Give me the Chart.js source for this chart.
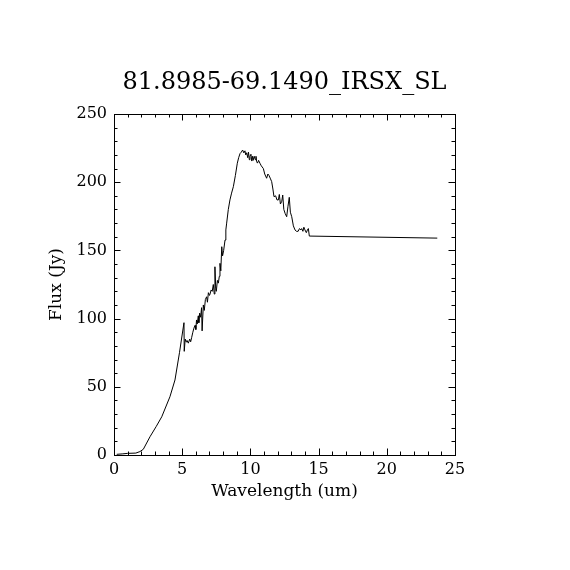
<!DOCTYPE html>
<html>
<head>
<meta charset="utf-8">
<script src="https://cdn.jsdelivr.net/npm/chart.js@4.4.1/dist/chart.umd.min.js"></script>
<style>
  html, body { margin: 0; padding: 0; background: #fff; }
  #wrap { width: 570px; height: 570px; position: relative; }
</style>
</head>
<body>
<div id="wrap"><canvas id="c"></canvas></div>
<script>
const chartTitle = "81.8985-69.1490_IRSX_SL";
const xLabel = "Wavelength (um)";
const yLabel = "Flux (Jy)";
const xTicks = [0, 5, 10, 15, 20, 25];
const yTicks = [0, 50, 100, 150, 200, 250];

const wavelength = [
  0.2, 0.6, 1.0, 1.6, 1.9, 2.15, 2.64, 3.1, 3.5, 4.1, 4.47, 4.8, 5.13, 5.15, 5.22, 5.28, 5.35, 5.45, 5.55, 5.62,
  5.69, 5.78, 5.86, 5.94, 6.0, 6.05, 6.1, 6.18, 6.22, 6.28, 6.35, 6.42, 6.46, 6.55, 6.62, 6.7, 6.79, 6.85, 6.92, 7.0,
  7.04, 7.12, 7.2, 7.28, 7.35, 7.4, 7.46, 7.5, 7.58, 7.65, 7.72, 7.77, 7.83, 7.9, 7.96, 8.04, 8.14, 8.2, 8.26, 8.38,
  8.5, 8.62, 8.75, 8.9, 9.04, 9.14, 9.24, 9.33, 9.43, 9.52, 9.6, 9.66, 9.73, 9.8, 9.86, 9.92, 9.97, 10.04, 10.1, 10.16, 10.2, 10.28,
  10.36, 10.41, 10.46, 10.52, 10.6, 10.7, 10.8, 10.95, 11.05, 11.19, 11.28, 11.36, 11.45, 11.56, 11.65, 11.73, 11.85, 11.95, 12.05, 12.12, 12.2,
  12.3, 12.37, 12.45, 12.55, 12.66, 12.75, 12.85, 12.93, 13.03, 13.15, 13.27, 13.38, 13.5, 13.6, 13.7, 13.76, 13.85, 13.92, 14.0, 14.1,
  14.18, 14.25, 14.32, 23.7
];
const flux = [
  0.5, 0.8, 1.2, 1.4, 2.5, 4.2, 13.4, 21, 28, 42.7, 55, 75, 97, 76, 85, 83, 84, 82, 85, 83,
  86, 90, 93, 95, 92, 99, 96, 102, 97, 104, 101, 108, 91, 110, 106, 114, 116, 112, 119, 117,
  118, 121, 120, 125, 118, 138, 122, 120, 128, 126, 131, 140.5, 135, 152.7, 146, 150, 157.6, 165, 170, 180,
  187, 192, 196.7, 205, 213.9, 218, 221, 222, 223.6, 221.5, 223, 220, 221.6, 218, 222, 216.5, 219, 220.5, 215.5, 219, 216, 219,
  216.5, 219, 215, 214, 216, 213.9, 212, 210, 206, 202.9, 206, 205, 203, 200.4, 195, 189.4, 190, 187, 187, 191, 184,
  186, 190.6, 180, 177, 174.7, 182, 188.9, 178, 174.7, 168, 165, 164, 164, 166, 165, 166, 164, 167, 165, 163,
  165, 166, 160.5, 159
];

const points = wavelength.map((w, i) => ({ x: w, y: flux[i] }));
const FONT = "'DejaVu Serif', 'Liberation Serif', serif";

const innerTicks = {
  id: 'innerTicks',
  afterDraw(chart) {
    const ctx = chart.ctx;
    const a = chart.chartArea;
    const xs = chart.scales.x, ys = chart.scales.y;
    ctx.save();
    ctx.strokeStyle = '#000';
    ctx.lineWidth = 1;
    ctx.beginPath();
    const major = 6.5, minor = 3.5;
    for (let i = 0; i < xTicks.length; i++) {
      const v = xTicks[i];
      const px = Math.round(xs.getPixelForValue(v)) + 0.5;
      ctx.moveTo(px, a.bottom); ctx.lineTo(px, a.bottom - major);
      ctx.moveTo(px, a.top); ctx.lineTo(px, a.top + major);
      if (i < xTicks.length - 1) {
        const step = (xTicks[i + 1] - v) / 5;
        for (let k = 1; k < 5; k++) {
          const mx = Math.round(xs.getPixelForValue(v + k * step)) + 0.5;
          ctx.moveTo(mx, a.bottom); ctx.lineTo(mx, a.bottom - minor);
          ctx.moveTo(mx, a.top); ctx.lineTo(mx, a.top + minor);
        }
      }
    }
    for (let i = 0; i < yTicks.length; i++) {
      const v = yTicks[i];
      const py = Math.round(ys.getPixelForValue(v)) + 0.5;
      ctx.moveTo(a.left, py); ctx.lineTo(a.left + major, py);
      ctx.moveTo(a.right, py); ctx.lineTo(a.right - major, py);
      if (i < yTicks.length - 1) {
        const step = (yTicks[i + 1] - v) / 5;
        for (let k = 1; k < 5; k++) {
          const my = Math.round(ys.getPixelForValue(v + k * step)) + 0.5;
          ctx.moveTo(a.left, my); ctx.lineTo(a.left + minor, my);
          ctx.moveTo(a.right, my); ctx.lineTo(a.right - minor, my);
        }
      }
    }
    ctx.stroke();
    ctx.restore();
  }
};

const bg = {
  id: 'bg',
  beforeDraw(chart) {
    const ctx = chart.ctx;
    ctx.save();
    ctx.fillStyle = '#fff';
    ctx.fillRect(0, 0, chart.width, chart.height);
    ctx.restore();
  }
};

new Chart(document.getElementById('c'), {
  type: 'scatter',
  data: {
    datasets: [{
      data: points,
      showLine: true,
      borderColor: '#000',
      borderWidth: 1,
      pointRadius: 0,
      tension: 0,
      fill: false
    }]
  },
  options: {
    responsive: true,
    maintainAspectRatio: false,
    animation: false,
    layout: { padding: 0 },
    plugins: { legend: { display: false }, tooltip: { enabled: false }, title: { display: false } },
    scales: {
      x: {
        type: 'linear', position: 'bottom', min: 0, max: 25,
        afterBuildTicks: s => { s.ticks = xTicks.map(v => ({ value: v })); },
        afterFit: s => { s.height = 115; },
        ticks: { color: '#000', font: { family: FONT, size: 16 }, padding: 5, maxRotation: 0 },
        grid: { display: false, drawTicks: false },
        border: { display: true, color: '#000', width: 1 },
        title: { display: true, text: xLabel, color: '#000', font: { family: FONT, size: 17 }, padding: { top: 0, bottom: 68 } }
      },
      x2: {
        type: 'linear', position: 'top', min: 0, max: 25,
        afterFit: s => { s.height = 114; },
        ticks: { display: false },
        grid: { display: false, drawTicks: false },
        border: { display: true, color: '#000', width: 1 },
        title: { display: true, text: chartTitle, color: '#000', font: { family: FONT, size: 24 }, padding: { top: 68, bottom: 0 } }
      },
      y: {
        type: 'linear', position: 'left', min: 0, max: 250,
        afterBuildTicks: s => { s.ticks = yTicks.map(v => ({ value: v })); },
        afterFit: s => { s.width = 114; },
        ticks: { color: '#000', font: { family: FONT, size: 16 }, padding: 7 },
        grid: { display: false, drawTicks: false },
        border: { display: true, color: '#000', width: 1 },
        title: { display: true, text: yLabel, color: '#000', font: { family: FONT, size: 17 }, padding: { top: 46, bottom: 0 } }
      },
      y2: {
        type: 'linear', position: 'right', min: 0, max: 250,
        afterFit: s => { s.width = 115; },
        ticks: { display: false },
        grid: { display: false, drawTicks: false },
        border: { display: true, color: '#000', width: 1 }
      }
    }
  },
  plugins: [bg, innerTicks]
});
</script>
</body>
</html>
